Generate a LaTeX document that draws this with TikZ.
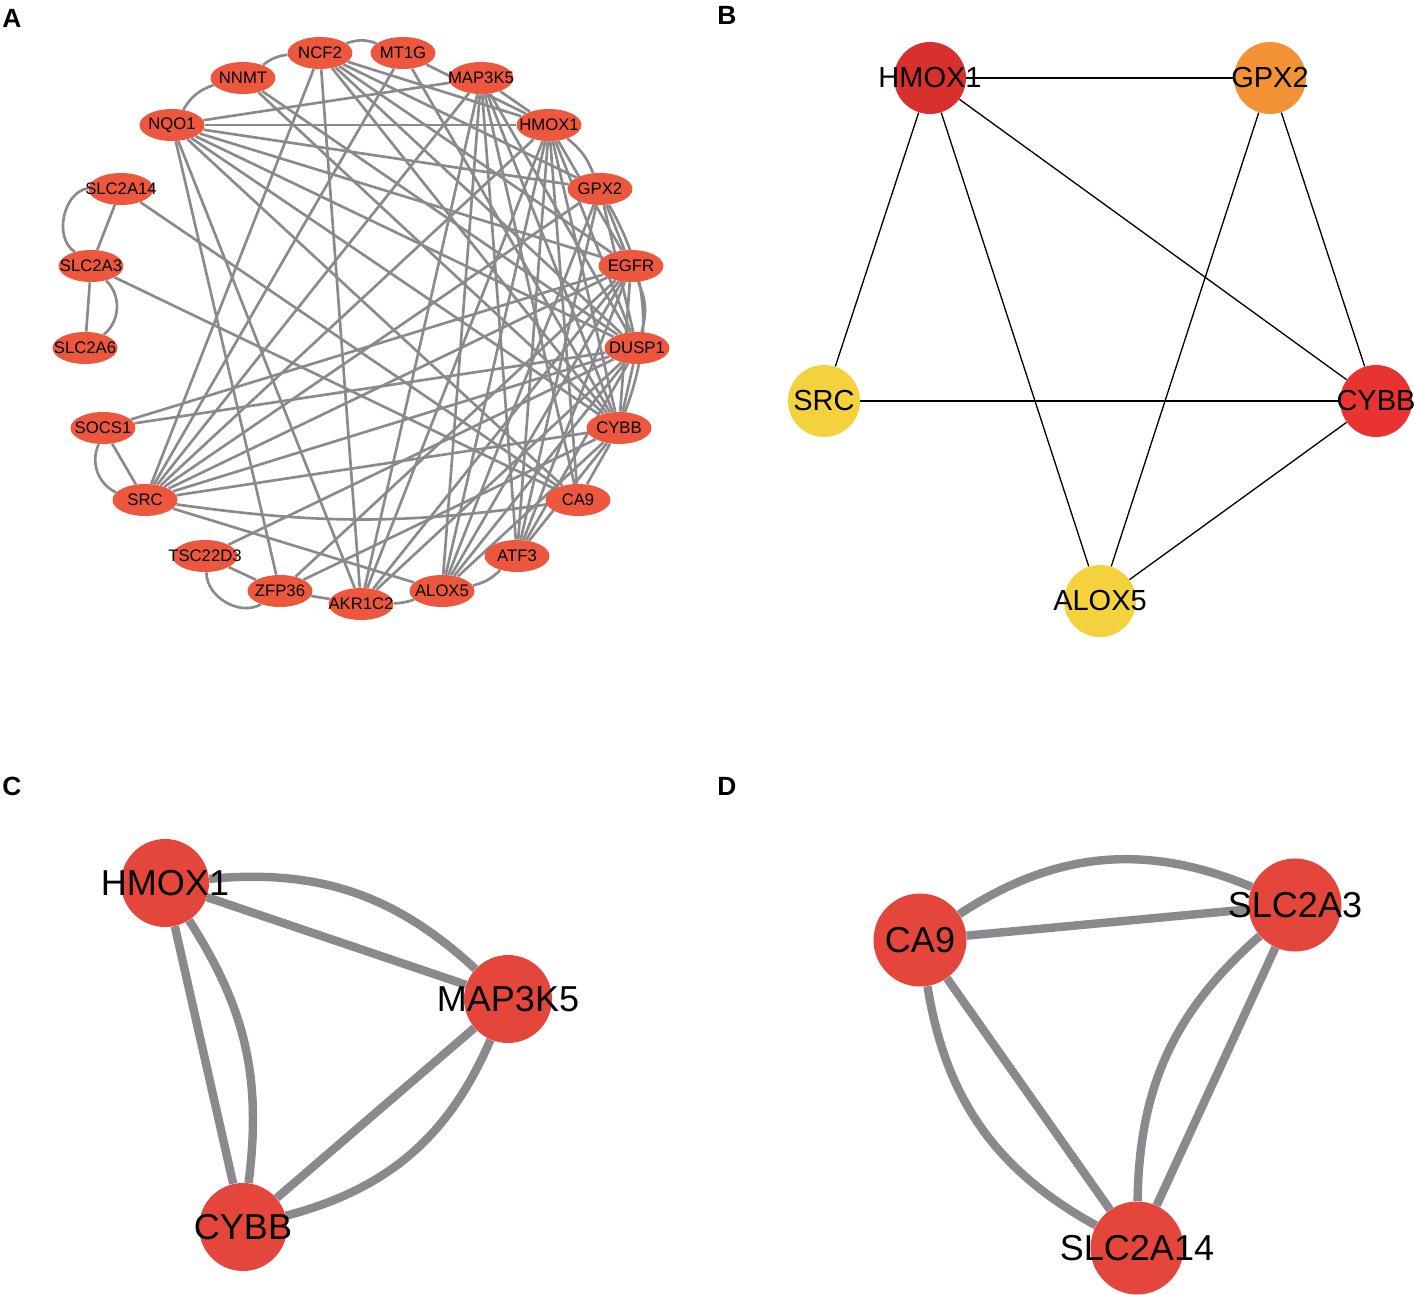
\documentclass[tikz,border=0pt]{standalone}
\usepackage{fontspec}
\setmainfont{Liberation Sans}
\usepackage{tikz}
\usetikzlibrary{shapes.geometric,backgrounds}

\definecolor{netred}{RGB}{236,87,62}
\definecolor{edgegray}{RGB}{137,137,142}
\definecolor{hubdark}{RGB}{215,48,45}
\definecolor{huborange}{RGB}{243,146,52}
\definecolor{hubyellow}{RGB}{243,210,62}
\definecolor{hubred}{RGB}{233,50,50}
\definecolor{modred}{RGB}{229,70,60}

\begin{document}
\begin{tikzpicture}[x=0.02cm,y=0.02cm,
	panel/.style={font=\bfseries\fontsize{15}{15}\selectfont},
	gene/.style={shape=ellipse,fill=netred,minimum width=1.3cm,minimum height=0.64cm,inner sep=0pt,
		label={[font=\fontsize{9.5}{10}\selectfont]center:#1}},
	hub/.style 2 args={shape=circle,fill=#1,minimum size=1.44cm,inner sep=0pt,
		label={[font=\fontsize{16.5}{17}\selectfont]center:#2}},
	module/.style={shape=circle,fill=modred,minimum size=1.76cm,inner sep=0pt,
		label={[font=\fontsize{20.5}{21}\selectfont]center:#1}},
	linkA/.style={draw=edgegray,line width=1.5pt},
	linkB/.style={draw=black,line width=0.75pt},
	linkC/.style={draw=edgegray,line width=4.8pt}]
	\useasboundingbox (0,0) rectangle (1414,-1295);

	\node[panel] (pa) at (12,-18)  {A};
	\node[panel] (pb) at (727,-15) {B};
	\node[panel] (pc) at (12,-786) {C};
	\node[panel] (pd) at (727,-786) {D};

	\node[gene=NCF2]    (ncf2)    at (320,-53)  {};
	\node[gene=MT1G]    (mt1g)    at (403,-53)  {};
	\node[gene=NNMT]    (nnmt)    at (243,-78)  {};
	\node[gene=MAP3K5]  (map3k5)  at (481,-78)  {};
	\node[gene=NQO1]    (nqo1)    at (172,-125) {};
	\node[gene=HMOX1]   (hmox1)   at (549,-125) {};
	\node[gene=SLC2A14] (slc2a14) at (121,-189) {};
	\node[gene=GPX2]    (gpx2)    at (600,-189) {};
	\node[gene=SLC2A3]  (slc2a3)  at (91,-266)  {};
	\node[gene=EGFR]    (egfr)    at (631,-266) {};
	\node[gene=SLC2A6]  (slc2a6)  at (85,-348)  {};
	\node[gene=DUSP1]   (dusp1)   at (637,-348) {};
	\node[gene=SOCS1]   (socs1)   at (103,-428) {};
	\node[gene=CYBB]    (cybb)    at (619,-428) {};
	\node[gene=SRC]     (src)     at (145,-500) {};
	\node[gene=CA9]     (ca9)     at (578,-500) {};
	\node[gene=TSC22D3] (tsc22d3) at (205,-556) {};
	\node[gene=ATF3]    (atf3)    at (517,-556) {};
	\node[gene=ZFP36]   (zfp36)   at (280,-591) {};
	\node[gene=ALOX5]   (alox5)   at (442,-591) {};
	\node[gene=AKR1C2]  (akr1c2)  at (361,-604) {};

	\node[hub={hubdark}{HMOX1}]   (hmoxb)  at (930,-78)   {};
	\node[hub={huborange}{GPX2}]  (gpxb)   at (1270,-78)  {};
	\node[hub={hubyellow}{SRC}]   (srcb)   at (824,-401)  {};
	\node[hub={hubred}{CYBB}]     (cybbb)  at (1376,-401) {};
	\node[hub={hubyellow}{ALOX5}] (aloxb)  at (1100,-601) {};

	\node[module=HMOX1]   (hmoxc)  at (165,-883)  {};
	\node[module=MAP3K5]  (mapc)   at (508,-999)  {};
	\node[module=CYBB]    (cybbc)  at (243,-1227) {};

	\node[module=CA9,minimum size=1.86cm]     (ca9d)   at (920,-940)  {};
	\node[module=SLC2A3,minimum size=1.86cm]  (slc3d)  at (1295,-905) {};
	\node[module=SLC2A14,minimum size=1.86cm] (slc14d) at (1137,-1248) {};

	\begin{pgfonlayer}{background}
	\path[linkA] (nqo1) edge[bend left=20] (nnmt) edge (hmox1) edge (map3k5) edge (gpx2)
		edge (egfr) edge (dusp1) edge (cybb) edge (ca9) edge (zfp36) edge (akr1c2);
	\path[linkA] (nnmt) edge[bend left=15] (ncf2) edge (dusp1) edge (cybb);
	\path[linkA] (ncf2) edge[bend left=20] (mt1g) edge (hmox1) edge (gpx2) edge (egfr) edge (cybb)
		edge (dusp1) edge (akr1c2) edge (src);
	\path[linkA] (mt1g) edge (src) edge (hmox1) edge (cybb);
	\path[linkA] (map3k5) edge (hmox1) edge (src) edge (cybb) edge (dusp1) edge (alox5)
		edge (atf3) edge (ca9) edge (akr1c2);
	\path[linkA] (hmox1) edge[bend left=15] (gpx2) edge (egfr) edge (dusp1) edge (cybb) edge (src)
		edge (alox5) edge (atf3) edge (akr1c2) edge (ca9);
	\path[linkA] (gpx2) edge (egfr) edge (dusp1) edge[bend left=25] (cybb) edge (src) edge (alox5)
		edge (atf3);
	\path[linkA] (egfr) edge[bend left=20] (dusp1) edge (cybb) edge (src) edge (socs1) edge (alox5)
		edge (zfp36) edge (akr1c2) edge (atf3);
	\path[linkA] (dusp1) edge (cybb) edge (src) edge (socs1) edge (alox5) edge (atf3)
		edge (tsc22d3) edge (akr1c2);
	\path[linkA] (cybb) edge (src) edge (alox5) edge (atf3) edge (ca9) edge (zfp36);
	\path[linkA] (src) edge[bend right=8] (ca9) edge (alox5);
	\path[linkA] (socs1) edge (src) edge[bend right=45] (src);
	\path[linkA] (slc2a14) edge (slc2a3) edge[bend right=70] (slc2a3) edge (ca9);
	\path[linkA] (slc2a3) edge (slc2a6) edge[bend left=50] (slc2a6) edge (ca9);
	\path[linkA] (tsc22d3) edge (zfp36) edge[bend right=60] (zfp36);
	\path[linkA] (zfp36) edge (akr1c2);
	\path[linkA] (akr1c2) edge[bend right=8] (alox5);
	\path[linkA] (alox5) edge[bend right=15] (atf3);

	\path[linkB] (hmoxb) edge (gpxb) edge (srcb) edge (aloxb) edge (cybbb);
	\path[linkB] (gpxb) edge (aloxb) edge (cybbb);
	\path[linkB] (srcb) edge (cybbb);
	\path[linkB] (aloxb) edge (cybbb);

	\path[linkC] (hmoxc) edge (mapc) edge[bend left=24] (mapc) edge (cybbc) edge[bend left=20] (cybbc);
	\path[linkC] (mapc) edge (cybbc) edge[bend left=26] (cybbc);

	\path[linkC] (ca9d) edge (slc3d) edge[bend left=28] (slc3d) edge (slc14d) edge[bend right=26] (slc14d);
	\path[linkC] (slc3d) edge (slc14d) edge[bend right=24] (slc14d);
	\end{pgfonlayer}
\end{tikzpicture}
\end{document}
